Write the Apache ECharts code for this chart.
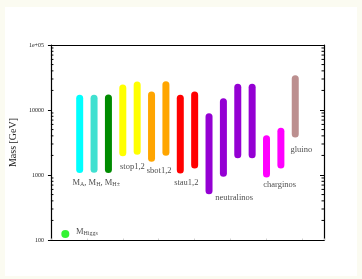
<!DOCTYPE html>
<html><head><meta charset="utf-8">
<script src="https://cdn.jsdelivr.net/npm/echarts@6/dist/echarts.min.js"></script>
<style>html,body{margin:0;padding:0;background:#fbfbf1}#c{width:362px;height:279px}</style>
</head><body><div id="c"></div>
<script>
// ---- data ----
const barX    = [2, 3, 4, 5, 6, 7, 8, 9, 10, 11, 12, 13, 14, 15, 16, 17];
const barLow  = [1220, 1230, 1220, 2200, 2320, 1810, 2240, 1190, 1425, 573, 1060, 2050, 2050, 1035, 1425, 4280];
const barHigh = [15100, 15100, 15300, 21800, 24300, 17000, 24500, 15100, 17000, 7890, 13400, 22300, 22300, 3620, 4700, 30300];
const barColors = ['#00ffff','#40e0d0','#008b00','#ffff00','#ffff00','#ffa500','#ffa500','#ff0000','#ff0000','#9400d3','#9400d3','#9400d3','#9400d3','#ff00ff','#ff00ff','#bc8f8f'];
const higgsX = [1];
const higgsMass = [124];
const labelTexts = ['{m|M}{s|A}{m|, M}{s|H}{m|, M}{s|H±}', '{m|stop1,2}', '{m|sbot1,2}', '{m|stau1,2}', '{m|neutralinos}', '{m|charginos}', '{m|gluino}', '{m|M}{s|Higgs}'];
const labelX = [3.15, 5.67, 7.53, 9.42, 12.75, 15.92, 17.42, 2.5];
const labelY = [760, 1375, 1165, 762, 454, 710, 2485, 137];
const yTicks = [100, 1000, 10000, 100000];
const yTickLabels = ['100', '1000', '10000', '1e+05'];
const minorTickValues = [];
for (let d = 100; d < 100000; d *= 10) for (let k = 2; k <= 9; k++) minorTickValues.push(k * d);

const FONT = 'Liberation Serif';
const chart = echarts.init(document.getElementById('c'), null, {renderer: 'canvas'});

const rich = {
  m: {fontFamily: FONT, fontSize: 8.5, color: '#222', lineHeight: 10, verticalAlign: 'bottom'},
  s: {fontFamily: FONT, fontSize: 6, color: '#222', lineHeight: 4, verticalAlign: 'bottom'}
};

chart.setOption({
  backgroundColor: '#fbfbf1',
  animation: false,
  graphic: [{type: 'rect', shape: {x: 5, y: 7, width: 352, height: 269}, style: {fill: '#ffffff'}, z: -10, silent: true}],
  grid: {left: 47, right: 38, top: 45, bottom: 39},
  xAxis: [{
    type: 'value', min: 0, max: 19, interval: 2.5,
    axisLine: {onZero: false, lineStyle: {color: '#000', width: 1.2}},
    axisTick: {show: true, inside: true, length: 1.5, lineStyle: {color: '#d0d0d0'}},
    axisLabel: {show: false}, splitLine: {show: false}
  }, {
    type: 'value', min: 0, max: 19, position: 'top',
    axisLine: {show: true, onZero: false, lineStyle: {color: '#000', width: 1.2}},
    axisTick: {show: false}, axisLabel: {show: false}, splitLine: {show: false}
  }],
  yAxis: [{
    type: 'log', logBase: 10, min: 100, max: 100000,
    name: 'Mass [GeV]', nameLocation: 'middle', nameGap: 29, nameRotate: 90,
    nameTextStyle: {fontFamily: FONT, fontSize: 10, color: '#222'},
    axisLine: {show: true, onZero: false, lineStyle: {color: '#000', width: 1.2}},
    axisTick: {show: true, inside: false, length: 3, lineStyle: {color: '#000'}},
    axisLabel: {fontFamily: FONT, fontSize: 6, color: '#222', margin: 7,
      formatter: v => { const i = yTicks.findIndex(t => Math.abs(t - v) / t < 1e-6); return i >= 0 ? yTickLabels[i] : ''; }},
    splitLine: {show: false}
  }, {
    type: 'log', logBase: 10, min: 100, max: 100000, position: 'right',
    axisLine: {show: true, onZero: false, lineStyle: {color: '#000', width: 1.2}},
    axisTick: {show: true, inside: true, length: 4, lineStyle: {color: '#000'}},
    axisLabel: {show: false}, splitLine: {show: false}
  }],
  series: [{
    type: 'custom',
    data: barX.map((x, i) => [x, barLow[i], barHigh[i], i]),
    renderItem: (params, api) => {
      const a = api.coord([api.value(0), api.value(1)]);
      const b = api.coord([api.value(0), api.value(2)]);
      return {type: 'line', shape: {x1: a[0], y1: a[1], x2: b[0], y2: b[1]},
        style: {stroke: barColors[api.value(3)], lineWidth: 7, lineCap: 'round'}};
    },
    z: 3
  }, {
    type: 'custom',
    data: minorTickValues.map(v => [0, v]),
    renderItem: (params, api) => {
      const l = api.coord([0, api.value(1)]);
      const r = api.coord([19, api.value(1)]);
      return {type: 'group', children: [
        {type: 'line', shape: {x1: l[0], y1: l[1], x2: l[0] + 2.5, y2: l[1]}, style: {stroke: '#000', lineWidth: 1}},
        {type: 'line', shape: {x1: r[0], y1: r[1], x2: r[0] - 2.5, y2: r[1]}, style: {stroke: '#000', lineWidth: 1}}
      ]};
    },
    z: 2
  }, {
    type: 'scatter',
    data: higgsX.map((x, i) => [x, higgsMass[i]]),
    symbolSize: 8,
    itemStyle: {color: '#00f000'},
    z: 3
  }, {
    type: 'scatter',
    data: labelX.map((x, i) => ({value: [x, labelY[i]], label: {formatter: labelTexts[i]}})),
    symbolSize: 0,
    label: {show: true, position: 'inside', rich: rich},
    z: 4
  }]
});
</script></body></html>
